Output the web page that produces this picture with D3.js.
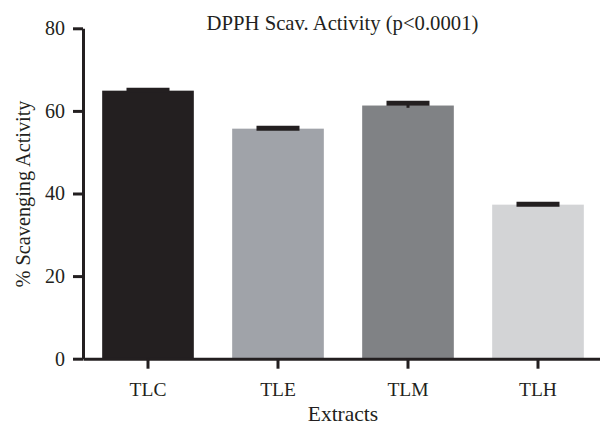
<!DOCTYPE html>
<html>
<head>
<meta charset="utf-8">
<script src="https://cdn.jsdelivr.net/npm/d3@7"></script>
<style>
  body { margin: 0; background: #fff; }
  text { font-family: "Liberation Serif", "Times New Roman", serif; fill: #231f20; }
</style>
</head>
<body>
<div id="chart"></div>
<script>
// Data
const extracts = ['TLC', 'TLE', 'TLM', 'TLH'];
const means = [64.9, 55.7, 61.3, 37.3];
const sds = [0.1, 0.1, 0.55, 0.1];
const barColors = ['#231f20', '#a0a3a9', '#808285', '#d3d4d6'];
const yTicks = [0, 20, 40, 60, 80];

const width = 600;
const height = 427;
const ink = '#231f20';

const svg = d3.select('#chart')
  .append('svg')
  .attr('width', width)
  .attr('height', height);

const x = d3.scaleBand()
  .domain(extracts)
  .range([83, 603])
  .paddingInner(0.295)
  .paddingOuter(0.1475);

const y = d3.scaleLinear()
  .domain([0, 80])
  .range([358.7, 28.3]);

// Bars
svg.append('g')
  .selectAll('rect')
  .data(extracts)
  .join('rect')
  .attr('x', d => x(d))
  .attr('width', x.bandwidth())
  .attr('y', (d, i) => y(means[i]))
  .attr('height', (d, i) => y(0) - y(means[i]))
  .attr('fill', (d, i) => barColors[i]);

// Error bars (mean +/- SD, cap on top)
const err = svg.append('g');
err.selectAll('line.stem')
  .data(extracts)
  .join('line')
  .attr('class', 'stem')
  .attr('x1', d => x(d) + x.bandwidth() / 2)
  .attr('x2', d => x(d) + x.bandwidth() / 2)
  .attr('y1', (d, i) => y(means[i] - sds[i]))
  .attr('y2', (d, i) => y(means[i] + sds[i]))
  .attr('stroke', ink)
  .attr('stroke-width', 3);
err.selectAll('line.cap')
  .data(extracts)
  .join('line')
  .attr('class', 'cap')
  .attr('x1', d => x(d) + x.bandwidth() / 2 - 21.5)
  .attr('x2', d => x(d) + x.bandwidth() / 2 + 21.5)
  .attr('y1', (d, i) => y(means[i] + sds[i]))
  .attr('y2', (d, i) => y(means[i] + sds[i]))
  .attr('stroke', ink)
  .attr('stroke-width', 5);

// Axes
const yAxis = svg.append('g')
  .attr('transform', 'translate(83,0)')
  .call(d3.axisLeft(y).tickValues(yTicks).tickSize(10).tickSizeOuter(0).tickPadding(8));

const xAxis = svg.append('g')
  .attr('transform', `translate(0,${y(0)})`)
  .call(d3.axisBottom(x).tickSize(10).tickSizeOuter(0).tickPadding(13));

[yAxis, xAxis].forEach(a => {
  a.select('.domain').attr('stroke', ink).attr('stroke-width', 3);
  a.selectAll('.tick line').attr('stroke', ink).attr('stroke-width', 3);
  a.selectAll('.tick text').attr('fill', ink);
});
yAxis.selectAll('.tick text').attr('font-size', 20);
xAxis.selectAll('.tick text').attr('font-size', 19.5);

// Titles
svg.append('text')
  .attr('x', 342.5)
  .attr('y', 30)
  .attr('text-anchor', 'middle')
  .attr('font-size', 20.7)
  .text('DPPH Scav. Activity (p<0.0001)');

svg.append('text')
  .attr('x', 343)
  .attr('y', 421)
  .attr('text-anchor', 'middle')
  .attr('font-size', 21.5)
  .text('Extracts');

svg.append('text')
  .attr('transform', 'translate(30,194) rotate(-90)')
  .attr('text-anchor', 'middle')
  .attr('font-size', 20.3)
  .text('% Scavenging Activity');
</script>
</body>
</html>
